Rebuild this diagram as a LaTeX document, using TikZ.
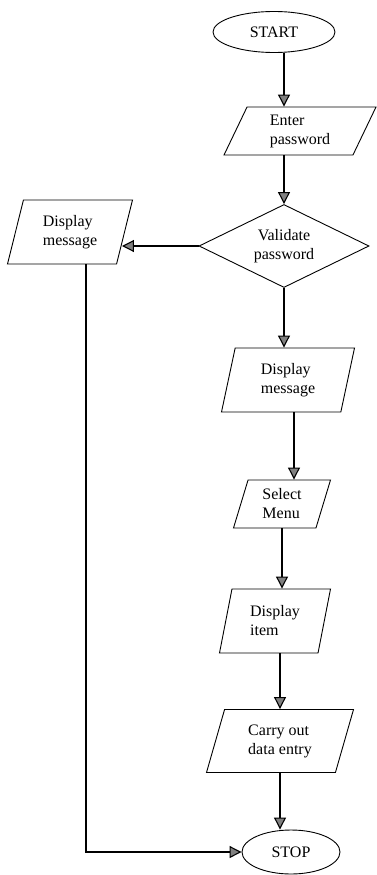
\documentclass[tikz,border=0pt]{standalone}
\usepackage{fontspec}
\setmainfont{Liberation Serif}
\usetikzlibrary{shapes.geometric,arrows.meta,positioning}

\tikzset{
	term/.style={draw, line width=0.9pt, ellipse, inner sep=0pt},
	io/.style={draw, line width=0.9pt, trapezium, trapezium left angle=65, trapezium right angle=115, trapezium stretches body, inner sep=2pt, align=left},
	decide/.style={draw, line width=0.9pt, diamond, aspect=2, inner sep=0pt, align=center},
	flow/.style={line width=1.1pt, ->}
}

\begin{document}
\begin{tikzpicture}[x=1pt,y=1pt,>={Triangle[length=12pt,width=12pt,fill=gray]},font=\fontsize{16}{19}\selectfont]
		\useasboundingbox (0,0) rectangle (376,-875);
		\node [term, minimum width=122pt, minimum height=41pt] (start) at (274,-32) {START};
		\node [io, minimum width=152pt, minimum height=48pt, trapezium left angle=58, trapezium right angle=122] (enter) at (300,-131) {Enter\\password};
		\node [decide, minimum width=170pt, minimum height=83pt] (valid) at (284,-246) {Validate\\password};
		\node [io, minimum width=125pt, minimum height=64pt, trapezium left angle=67, trapezium right angle=113] (msgl) at (70,-232) {Display\\message};
		\node [io, minimum width=133pt, minimum height=64pt, trapezium left angle=70, trapezium right angle=110] (msgm) at (288,-380) {Display\\message};
		\node [io, minimum width=97pt, minimum height=48pt, trapezium left angle=67, trapezium right angle=113] (select) at (282,-504) {Select\\Menu};
		\node [io, minimum width=111pt, minimum height=64pt, trapezium left angle=70, trapezium right angle=110] (item) at (275,-621) {Display\\item};
		\node [io, minimum width=147pt, minimum height=63pt, trapezium left angle=64, trapezium right angle=116] (carry) at (280,-741) {Carry out\\data entry};
		\node [term, minimum width=98pt, minimum height=44pt] (stop) at (291,-852) {STOP};
		
		\path[flow] (start.south -| valid.north) edge (enter.north -| valid.north);
		\path[flow] (enter.south -| valid.north) edge (valid.north);
		\path[flow] (valid.west) edge ([xshift=-3pt]valid.west -| msgl.east);
		\path[flow] (valid.south) edge (valid.south |- msgm.north);
		\path[flow] ([xshift=6pt]msgm.south) edge ([xshift=6pt]msgm.south |- select.north);
		\path[flow] (select.south) edge (select.south |- item.north);
		\path[flow] (item.south -| carry.north) edge (carry.north);
		\path[flow] (carry.south) edge (carry.south |- stop.north);
		\draw[flow] ([xshift=16pt]msgl.south) |- (stop.west);
		\end{tikzpicture}
\end{document}
